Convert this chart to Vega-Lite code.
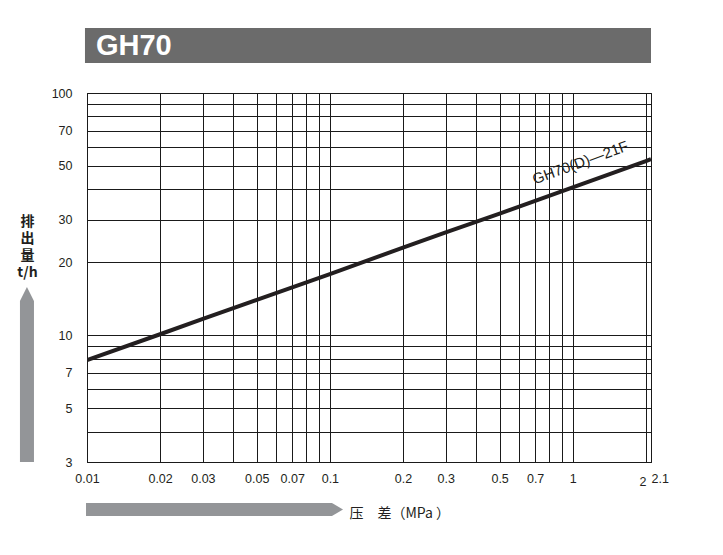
{
  "$schema": "https://vega.github.io/schema/vega-lite/v6.json",
  "autosize": {"type": "none"},
  "width": 564,
  "height": 369,
  "padding": {"left": 87, "top": 93, "right": 72, "bottom": 93},
  "background": "white",
  "config": {
    "view": {"stroke": "#1a1a1a", "strokeWidth": 1},
    "font": "Liberation Sans"
  },
  "datasets": {
    "curve": [
      {"dp": 0.01, "flow": 7.9},
      {"dp": 0.02, "flow": 10.1},
      {"dp": 0.03, "flow": 11.7},
      {"dp": 0.05, "flow": 14.0},
      {"dp": 0.1, "flow": 17.9},
      {"dp": 0.2, "flow": 23.0},
      {"dp": 0.3, "flow": 26.6},
      {"dp": 0.5, "flow": 31.8},
      {"dp": 1, "flow": 40.8},
      {"dp": 2, "flow": 52.3},
      {"dp": 2.1, "flow": 53.4}
    ],
    "labels": [
      {"dp": 1.075, "flow": 51.6, "name": "GH70(D)—21F"}
    ],
    "one": [{}]
  },
  "layer": [
    {
      "data": {"name": "curve"},
      "mark": {"type": "line", "color": "#231f20", "strokeWidth": 4, "clip": true},
      "encoding": {
        "x": {
          "field": "dp",
          "type": "quantitative",
          "scale": {"type": "log", "domain": [0.01, 2.1], "nice": false},
          "axis": {
            "values": [0.01, 0.02, 0.03, 0.04, 0.05, 0.06, 0.07, 0.08, 0.09, 0.1, 0.2, 0.3, 0.4, 0.5, 0.6, 0.7, 0.8, 0.9, 1, 2, 2.1],
            "format": "~g",
            "labelExpr": "indexof([0.01,0.02,0.03,0.05,0.07,0.1,0.2,0.3,0.5,0.7,1,2,2.1], datum.value) < 0 ? '' : datum.label",
            "grid": true,
            "gridColor": "#1a1a1a",
            "gridOpacity": 1,
            "gridWidth": 1,
            "ticks": false,
            "domain": true,
            "domainColor": "#1a1a1a",
            "labelFlush": false,
            "labelOverlap": false,
            "labelFontSize": 12.5,
            "labelColor": "#231f20",
            "labelFont": "Liberation Sans",
            "labelAlign": {"condition": [{"test": "datum.value == 2", "value": "right"}, {"test": "datum.value == 2.1", "value": "left"}], "value": "center"},
            "labelPadding": {"condition": {"test": "datum.value == 2", "value": 13}, "value": 10},
            "title": "压　差（MPa ）",
            "titleFont": "Noto Sans CJK SC",
            "titleFontSize": 14,
            "titleFontWeight": "normal",
            "titleColor": "#231f20",
            "titleAlign": "left",
            "titleAnchor": "start",
            "titleBaseline": "alphabetic",
            "titleX": 262,
            "titleY": 55
          }
        },
        "y": {
          "field": "flow",
          "type": "quantitative",
          "scale": {"type": "log", "domain": [3, 100], "nice": false},
          "axis": {
            "values": [3, 4, 5, 6, 7, 8, 9, 10, 20, 30, 40, 50, 60, 70, 80, 90, 100],
            "format": "~g",
            "labelExpr": "indexof([3,5,7,10,20,30,50,70,100], datum.value) < 0 ? '' : datum.label",
            "grid": true,
            "gridColor": "#1a1a1a",
            "gridOpacity": 1,
            "gridWidth": 1,
            "ticks": false,
            "domain": true,
            "domainColor": "#1a1a1a",
            "labelFlush": false,
            "labelOverlap": false,
            "labelFontSize": 12.5,
            "labelColor": "#231f20",
            "labelFont": "Liberation Sans",
            "labelPadding": 15,
            "title": ["排", "出", "量", "t/h"],
            "titleFont": "Noto Sans CJK SC",
            "titleFontSize": 14,
            "titleFontWeight": "bold",
            "titleColor": "#231f20",
            "titleAngle": 0,
            "titleAlign": "center",
            "titleBaseline": "alphabetic",
            "titleLineHeight": 17,
            "titleX": -60,
            "titleY": 132
          }
        }
      }
    },
    {
      "data": {"name": "labels"},
      "mark": {"type": "text", "angle": -20, "fontSize": 15, "color": "#231f20", "font": "Liberation Sans", "align": "center", "baseline": "middle", "clip": false},
      "encoding": {
        "x": {"field": "dp", "type": "quantitative"},
        "y": {"field": "flow", "type": "quantitative"},
        "text": {"field": "name"}
      }
    },
    {
      "data": {"name": "one"},
      "mark": {"type": "rect", "color": "#6b6b6b", "clip": false},
      "encoding": {
        "x": {"datum": 0.00981},
        "x2": {"datum": 2.1},
        "y": {"datum": 133},
        "y2": {"datum": 185.4}
      }
    },
    {
      "data": {"name": "one"},
      "mark": {"type": "text", "fontSize": 29, "fontWeight": "bold", "color": "white", "font": "Liberation Sans", "align": "left", "baseline": "alphabetic", "clip": false},
      "encoding": {
        "x": {"datum": 0.01089},
        "y": {"datum": 143.5},
        "text": {"value": "GH70"}
      }
    },
    {
      "data": {"name": "one"},
      "mark": {"type": "point", "filled": true, "color": "#939598", "opacity": 1, "strokeWidth": 0, "size": 66049, "shape": "M-1,-0.0506L0.914,-0.0506L1,0L0.914,0.0506L-1,0.0506Z", "clip": false},
      "encoding": {
        "x": {"datum": 0.0335},
        "y": {"datum": 1.911}
      }
    },
    {
      "data": {"name": "one"},
      "mark": {"type": "point", "filled": true, "color": "#939598", "opacity": 1, "strokeWidth": 0, "size": 30625, "shape": "M-0.08,1L-0.08,-0.84L0,-1L0.08,-0.84L0.08,1Z", "clip": false},
      "encoding": {
        "x": {"datum": 0.00566},
        "y": {"datum": 6.89}
      }
    }
  ]
}
